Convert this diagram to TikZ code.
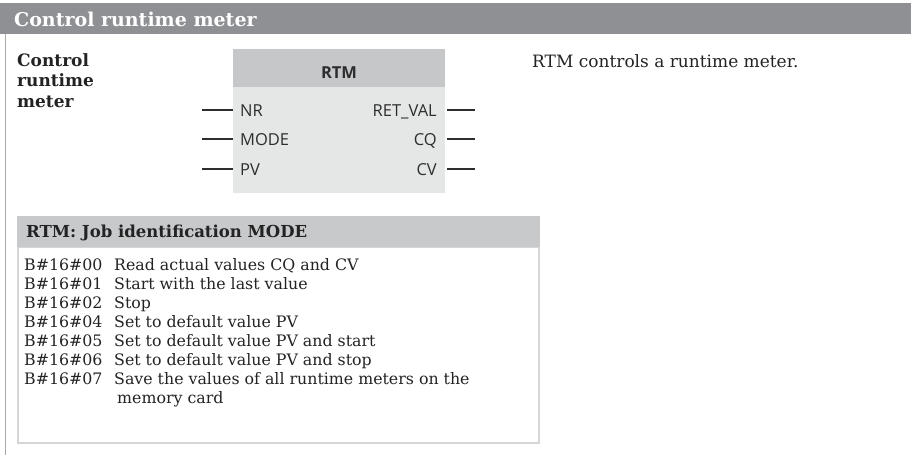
\documentclass[tikz,border=0pt]{standalone}
\usepackage{fontspec}
\setmainfont{DejaVu Serif}
\newfontfamily\pinfont{Open Sans}
\definecolor{hdrgray}{RGB}{143,144,148}
\definecolor{boxhead}{RGB}{198,199,201}
\definecolor{boxbody}{RGB}{229,230,230}
\definecolor{tabhead}{RGB}{200,201,203}
\definecolor{tabborder}{RGB}{214,214,214}
\definecolor{sideline}{RGB}{170,170,170}
\definecolor{txt}{RGB}{35,35,35}
\definecolor{pintxt}{RGB}{45,45,45}
\tikzset{
  bodytext/.style={font=\fontsize{15.8}{19}\selectfont, text=txt, inner sep=0pt, anchor=base west},
  boldlabel/.style={font=\fontsize{17}{20}\selectfont\bfseries, text=txt, inner sep=0pt, anchor=base west},
  pinlabel/.style={font=\pinfont\fontsize{16.5}{19}\selectfont, text=pintxt, inner sep=0pt},
  pinwire/.style={draw=pintxt, line width=1.2pt},
  panel/.style={inner sep=0pt, anchor=north west, outer sep=0pt},
}
\begin{document}
\begin{tikzpicture}[x=1pt,y=-1pt]
\useasboundingbox (0,0) rectangle (911,455);
% page header
\node[panel, fill=hdrgray, minimum width=911pt, minimum height=31pt] (hdr) at (0,3) {};
\node[font=\fontsize{19}{22}\selectfont\bfseries, text=white, inner sep=0pt, anchor=base west] (hdrtext) at (14,27) {Control runtime meter};
\coordinate (sideA) at (5.5,34);
\coordinate (sideB) at (5.5,455);
\draw[sideline, line width=1.5pt] (sideA) -- (sideB);
% left label
\node[boldlabel] (lab1) at (17,66) {Control};
\node[boldlabel] (lab2) at (17,86.5) {runtime};
\node[boldlabel] (lab3) at (17,107) {meter};
% description
\node[bodytext, font=\fontsize{17}{20}\selectfont] (desc) at (532,67) {RTM controls a runtime meter.};
% RTM block
\node[panel, fill=boxbody, minimum width=212pt, minimum height=144pt] (rtm) at (233,49) {};
\node[panel, fill=boxhead, minimum width=212pt, minimum height=38pt] (rtmhead) at (233,49) {};
\node[pinlabel, font=\pinfont\bfseries\fontsize{16.5}{19}\selectfont, anchor=base] (rtmtitle) at (339,78) {RTM};
\node[pinlabel, anchor=base west] (nr) at (240,116) {NR};
\node[pinlabel, anchor=base west] (mode) at (240,145.5) {MODE};
\node[pinlabel, anchor=base west] (pv) at (240,175) {PV};
\node[pinlabel, anchor=base east] (retval) at (437,116) {RET\_VAL};
\node[pinlabel, anchor=base east] (cq) at (437,145.5) {CQ};
\node[pinlabel, anchor=base east] (cv) at (437,175) {CV};
\coordinate (nrIn) at (202,110);
\coordinate (modeIn) at (202,139);
\coordinate (pvIn) at (202,169);
\coordinate (rvOut) at (475,110);
\coordinate (cqOut) at (475,139);
\coordinate (cvOut) at (475,169);
\draw[pinwire] (nrIn) -- (nrIn -| rtm.west);
\draw[pinwire] (modeIn) -- (modeIn -| rtm.west);
\draw[pinwire] (pvIn) -- (pvIn -| rtm.west);
\draw[pinwire] ([xshift=2pt]rvOut -| rtm.east) -- (rvOut);
\draw[pinwire] ([xshift=2pt]cqOut -| rtm.east) -- (cqOut);
\draw[pinwire] ([xshift=2pt]cvOut -| rtm.east) -- (cvOut);
% table
\node[panel, draw=tabborder, line width=1.5pt, minimum width=521pt, minimum height=196pt] (tabbody) at (17.75,247) {};
\node[panel, fill=tabhead, minimum width=523pt, minimum height=31pt] (tabhead) at (17,216) {};
\node[boldlabel, font=\fontsize{16.5}{19}\selectfont\bfseries] (tabtitle) at (26,237) {RTM: Job identification MODE};
\foreach \code/\desc [count=\i] in {B\#16\#00/Read actual values CQ and CV,
    B\#16\#01/Start with the last value,
    B\#16\#02/Stop,
    B\#16\#04/Set to default value PV,
    B\#16\#05/Set to default value PV and start,
    B\#16\#06/Set to default value PV and stop,
    B\#16\#07/Save the values of all runtime meters on the}{
  \node[bodytext] (c\i) at (24,{270+19*(\i-1)}) {\code};
  \node[bodytext] (d\i) at (114,{270+19*(\i-1)}) {\desc};
}
\node[bodytext] (d8) at (117,403) {memory card};
\end{tikzpicture}
\end{document}
